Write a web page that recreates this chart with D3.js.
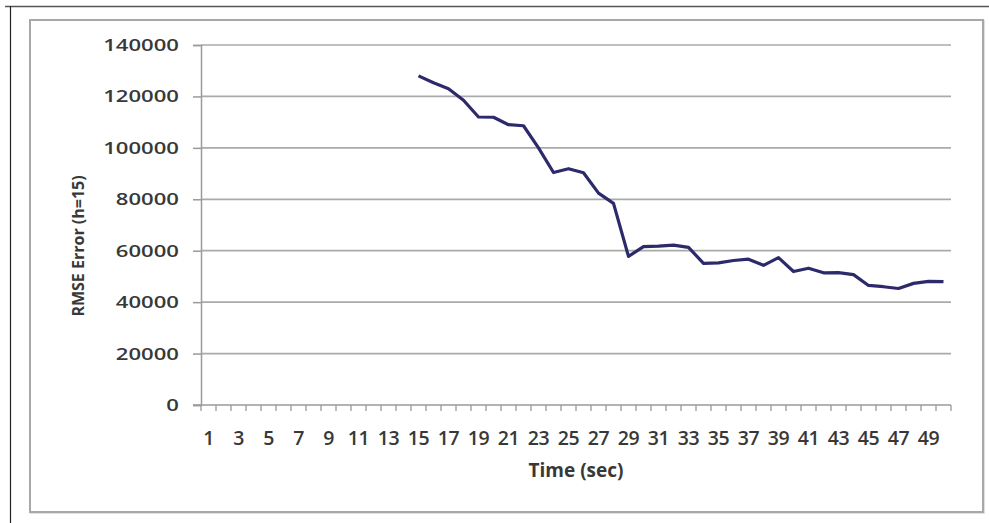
<!DOCTYPE html>
<html><head><meta charset="utf-8">
<script src="https://cdn.jsdelivr.net/npm/d3@7"></script>
<style>
html,body{margin:0;padding:0;background:#fff;}
svg{display:block;}
text{font-family:"Open Sans","DejaVu Sans",sans-serif;fill:#383838;}
</style></head>
<body>
<svg id="chart" width="989" height="523"></svg>
<script>
const categories = d3.range(1, 51);
const tickLabels = d3.range(1, 51, 2);
const yTicks = [0, 20000, 40000, 60000, 80000, 100000, 120000, 140000];
const seriesTimes = d3.range(15, 51);
const rmseValues = [128000, 125300, 123000, 118500, 112000, 111900, 109000, 108600, 100000, 90400,
  91900, 90300, 82400, 78400, 57800, 61600, 61800, 62200, 61300, 55100,
  55300, 56200, 56700, 54300, 57300, 51900, 53200, 51400, 51500, 50700,
  46500, 46000, 45300, 47300, 48100, 48000];
const xTitle = "Time (sec)";
const yTitle = "RMSE Error (h=15)";

const svg = d3.select("#chart");

// outer frame lines
svg.append("line").attr("x1",5).attr("x2",989).attr("y1",6.5).attr("y2",6.5).attr("stroke","#555").attr("stroke-width",1.5);
svg.append("line").attr("x1",10.5).attr("x2",10.5).attr("y1",6).attr("y2",523).attr("stroke","#222").attr("stroke-width",1.2);
// inner chart box with slight shadow
svg.append("rect").attr("x",31).attr("y",21).attr("width",953).attr("height",492).attr("fill","none").attr("stroke","#e0e0e0").attr("stroke-width",2);
svg.append("rect").attr("x",30).attr("y",20).attr("width",953).attr("height",492).attr("fill","#fff").attr("stroke","#a8a8a8").attr("stroke-width",2);

const x0 = 201, x1 = 951, yTop = 45, yBot = 405;
const x = d3.scaleBand().domain(categories).range([x0, x1]).paddingInner(0).paddingOuter(0);
const y = d3.scaleLinear().domain([0, 140000]).range([yBot, yTop]);

const g = svg.append("g");

// gridlines
g.selectAll(".grid").data(yTicks.filter(d => d > 0)).join("line")
  .attr("x1", x0).attr("x2", x1)
  .attr("y1", d => y(d)).attr("y2", d => y(d))
  .attr("stroke", "#aaaaaa").attr("stroke-width", 1.7);

// y axis
const yAxis = d3.axisLeft(y).tickValues(yTicks).tickSize(8).tickPadding(14).tickFormat(d3.format("d"));
const ya = g.append("g").attr("transform", `translate(${x0},0)`).call(yAxis);
ya.select(".domain").attr("stroke", "#9a9a9a").attr("stroke-width", 1.5);
ya.selectAll(".tick line").attr("stroke", "#9a9a9a").attr("stroke-width", 1.5);
ya.selectAll(".tick text").attr("font-size", 17).attr("font-weight", 600).attr("fill", "#383838")
  .attr("transform", "scale(1.3,1)")
  .attr("x", -(8 + 14) / 1.3);

// x axis: ticks at category boundaries
const xa = g.append("g").attr("transform", `translate(0,${yBot})`);
xa.append("line").attr("x1", x0 - 8).attr("x2", x1).attr("y1", 0).attr("y2", 0).attr("stroke", "#9a9a9a").attr("stroke-width", 1.5);
xa.selectAll(".xt").data(categories.concat([51])).join("line")
  .attr("x1", d => d <= 50 ? x(d) : x1).attr("x2", d => d <= 50 ? x(d) : x1)
  .attr("y1", 0).attr("y2", 6).attr("stroke", "#9a9a9a").attr("stroke-width", 1.3);
xa.selectAll(".xl").data(tickLabels).join("text")
  .attr("x", d => x(d) + x.bandwidth() / 2).attr("y", 40)
  .attr("text-anchor", "middle").attr("font-size", 19.5).attr("font-weight", 600)
  .attr("letter-spacing", -0.5)
  .text(d => d);

// titles
svg.append("text").attr("x", 576).attr("y", 477).attr("text-anchor", "middle")
  .attr("font-size", 19).attr("font-weight", 700).attr("fill", "#333").text(xTitle);
svg.append("text").attr("transform", "translate(84,246) rotate(-90)").attr("text-anchor", "middle")
  .attr("font-size", 16).attr("font-weight", 700).attr("fill", "#333").text(yTitle);

// line
const pts = seriesTimes.map((t, i) => ({t, v: rmseValues[i]}));
const line = d3.line().x(d => x(d.t) + x.bandwidth() / 2).y(d => y(d.v));
g.append("path").datum(pts).attr("d", line).attr("fill", "none")
  .attr("stroke", "#2d2a6b").attr("stroke-width", 3.2).attr("stroke-linejoin", "round");
</script>
</body></html>
